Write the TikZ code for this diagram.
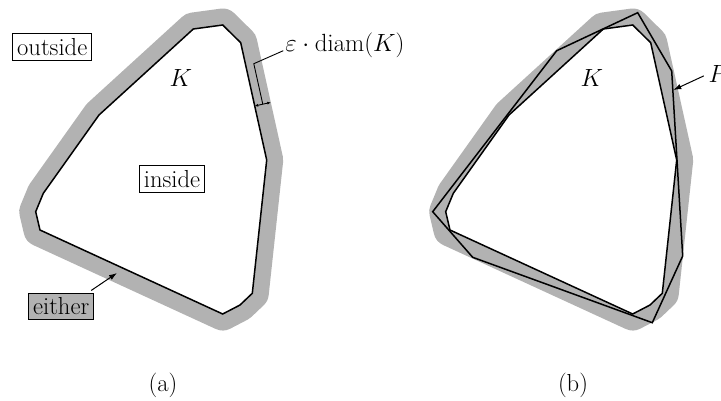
\documentclass[tikz,border=0pt]{standalone}
\usetikzlibrary{arrows.meta}
\definecolor{band}{gray}{0.70}
\begin{document}
\begin{tikzpicture}[x=1pt,y=-1pt,
  txt/.style={font=\fontsize{24.6}{29}\selectfont, inner sep=0pt},
  boxed/.style={txt, draw, line width=0.9pt, inner sep=4.5pt},
  kline/.style={line width=1.5pt, line join=miter},
  bandline/.style={draw=band, fill=band, line width=33pt, line join=round},
  thinline/.style={line width=0.9pt},
  tip/.style={-{Latex[length=8pt,width=5.5pt]}, line width=1pt}]
\useasboundingbox (0,0) rectangle (721,400);
\def\Kpath{(193.3,29) -- (222.7,25) -- (240.7,42.7) -- (266.7,160) -- (252.3,293.3) -- (240,305) -- (222.7,314) -- (40,230) -- (35.7,211.7) -- (43.3,193.3) -- (99,115) -- cycle}
% (a)
\path[bandline] \Kpath;
\fill[white] \Kpath;
\draw[kline] \Kpath;
% (b)
\begin{scope}[xshift=410pt]
\path[bandline] \Kpath;
\fill[white] \Kpath;
\draw[kline] \Kpath;
\end{scope}
\draw[kline] (637.7,12.7) -- (671.7,71) -- (682.7,256) -- (652.3,322.7) -- (472.7,257.3) -- (432.7,211.7) -- (556.7,50.7) -- cycle;
% labels
\node[boxed] (outsideL) at (52.2,47) {outside};
\node[boxed] (insideL) at (172,178.9) {inside};
\node[boxed, fill=band] (eitherL) at (61.2,306.3) {either};
\node[txt] (KL) at (181,78) {$K$};
\node[txt, inner sep=2pt] (epsL) at (345,45.3) {$\varepsilon\cdot\mathrm{diam}(K)$};
\node[txt] (KR) at (592,78) {$K$};
\node[txt, anchor=base west] (PR) at (708.3,82.3) {$P$};
\node[txt] (capa) at (163,385) {(a)};
\node[txt] (capb) at (573,385) {(b)};
% connectors
\coordinate (eitherTip) at (117,273);
\draw[tip, shorten <=4pt] (eitherL.27) -- (eitherTip);
\coordinate (Ptip) at (673.3,90);
\draw[tip, shorten <=5pt] (PR.west) -- (Ptip);
\coordinate (brTop) at (253.8,63.7);
\coordinate (brBot) at (262.8,104.2);
\coordinate (dIn) at (254.7,106);
\coordinate (dOut) at (270.8,102.4);
\draw[thinline] (epsL.185) -- (brTop) -- (brBot);
\draw[thinline, {Latex[length=3.5pt,width=3pt]}-{Latex[length=3.5pt,width=3pt]}] (dIn) -- (dOut);
\end{tikzpicture}
\end{document}
